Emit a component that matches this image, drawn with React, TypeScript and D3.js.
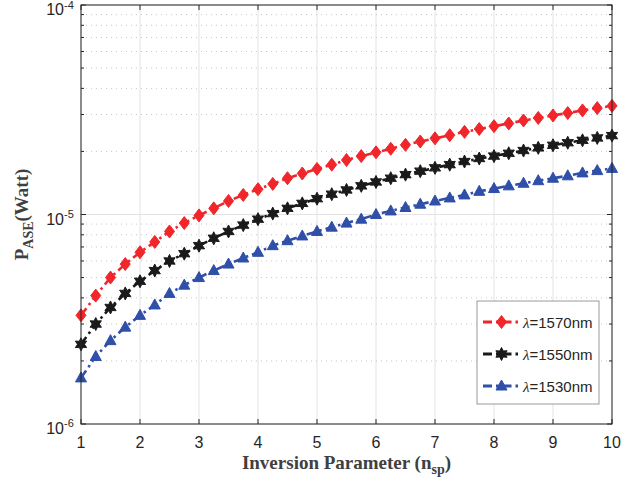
import React from "react";
import * as d3 from "d3";

const xValues = [1,1.25,1.5,1.75,2,2.25,2.5,2.75,3,3.25,3.5,3.75,4,4.25,4.5,4.75,5,5.25,5.5,5.75,6,6.25,6.5,6.75,7,7.25,7.5,7.75,8,8.25,8.5,8.75,9,9.25,9.5,9.75,10];
// values in units of 1e-6 W
const red1570 = [3.3,4.1,5.0,5.8,6.6,7.4,8.3,9.1,9.9,10.7,11.6,12.4,13.2,14.0,14.9,15.7,16.5,17.3,18.2,19.0,19.8,20.6,21.5,22.3,23.1,23.9,24.8,25.6,26.4,27.2,28.1,28.9,29.7,30.5,31.4,32.2,33.0];
const black1550 = [2.4,3.0,3.6,4.2,4.8,5.4,6.0,6.5,7.1,7.7,8.3,8.9,9.5,10.1,10.7,11.3,11.9,12.5,13.1,13.7,14.3,14.9,15.5,16.1,16.7,17.3,17.9,18.5,19.0,19.6,20.2,20.8,21.4,22.0,22.6,23.2,23.8];
const blue1530 = [1.66,2.1,2.5,2.9,3.3,3.7,4.2,4.6,5.0,5.4,5.8,6.2,6.6,7.1,7.5,7.9,8.3,8.7,9.1,9.5,10.0,10.4,10.8,11.2,11.6,12.0,12.4,12.9,13.3,13.7,14.1,14.5,14.9,15.3,15.8,16.2,16.6];
const xTicks = [1,2,3,4,5,6,7,8,9,10];
const yDecades = [-6,-5,-4];
const seriesLabels = ["1570nm","1550nm","1530nm"];

const W = 640, H = 487;
const L = 81, R = 612, T = 5, B = 424;

const x = d3.scaleLinear().domain([1, 10]).range([L, R]);
const y = d3.scaleLog().domain([1e-6, 1e-4]).range([B, T]);

const series = [
  { name: seriesLabels[0], values: red1570, color: "#f0262b", marker: "diamond" },
  { name: seriesLabels[1], values: black1550, color: "#1a1a1a", marker: "star" },
  { name: seriesLabels[2], values: blue1530, color: "#2f4fa8", marker: "triangle" },
];

function markerPath(kind: string): string {
  if (kind === "diamond") return "M0,-6.5L5,0L0,6.5L-5,0Z";
  if (kind === "triangle") return "M0,-6L5.5,4L-5.5,4Z";
  const pts: string[] = [];
  for (let i = 0; i < 12; i++) {
    const r = i % 2 === 0 ? 6.5 : 3.5;
    const a = (Math.PI / 6) * i - Math.PI / 2;
    pts.push(`${(r * Math.cos(a)).toFixed(2)},${(r * Math.sin(a)).toFixed(2)}`);
  }
  return "M" + pts.join("L") + "Z";
}

const minorYs: number[] = [];
for (let e = -6; e < -4; e++) {
  for (let m = 2; m <= 9; m++) minorYs.push(m * Math.pow(10, e));
}

const line = d3.line<[number, number]>().x(d => x(d[0])).y(d => y(d[1]));
const axisColor = "#262626";
const textColor = "#262626";

export default function App() {
  return (
    <svg width={W} height={H} style={{ position: "absolute", left: 0, top: 0, background: "#fff" }}>
      <rect x={L} y={T} width={R - L} height={B - T} fill="#fff" />
      {xTicks.map(t => (
        <line key={"gx" + t} x1={x(t)} x2={x(t)} y1={T} y2={B} stroke="#e3e3e3" strokeWidth={1} />
      ))}
      {minorYs.map((v, i) => (
        <line key={"gmy" + i} x1={L} x2={R} y1={y(v)} y2={y(v)} stroke="#c8c8c8" strokeWidth={1} strokeDasharray="1,4" />
      ))}
      {yDecades.map(e => (
        <line key={"gy" + e} x1={L} x2={R} y1={y(Math.pow(10, e))} y2={y(Math.pow(10, e))} stroke="#e3e3e3" strokeWidth={1} />
      ))}
      {series.map(s => {
        const pts: [number, number][] = xValues.map((xv, i) => [xv, s.values[i] * 1e-6]);
        return (
          <g key={s.name}>
            <path d={line(pts) || ""} fill="none" stroke={s.color} strokeWidth={2.6} strokeDasharray="9,4,2.5,4" />
            {pts.map((p, i) => (
              <path key={i} d={markerPath(s.marker)} transform={`translate(${x(p[0])},${y(p[1])})`} fill={s.color} stroke={s.color} strokeWidth={1} />
            ))}
          </g>
        );
      })}
      <rect x={L} y={T} width={R - L} height={B - T} fill="none" stroke={axisColor} strokeWidth={1} />
      {xTicks.map(t => (
        <g key={"tx" + t}>
          <line x1={x(t)} x2={x(t)} y1={B} y2={B - 5} stroke={axisColor} />
          <line x1={x(t)} x2={x(t)} y1={T} y2={T + 5} stroke={axisColor} />
          <text x={x(t)} y={448} textAnchor="middle" fontFamily="Liberation Sans, Arial, sans-serif" fontSize={16} fill={textColor}>{t}</text>
        </g>
      ))}
      {yDecades.map(e => (
        <g key={"ty" + e}>
          <line x1={L} x2={L + 5} y1={y(Math.pow(10, e))} y2={y(Math.pow(10, e))} stroke={axisColor} />
          <line x1={R} x2={R - 5} y1={y(Math.pow(10, e))} y2={y(Math.pow(10, e))} stroke={axisColor} />
          <text x={64} y={y(Math.pow(10, e)) + 10} textAnchor="end" fontFamily="Liberation Sans, Arial, sans-serif" fontSize={16} fill={textColor}>10</text>
          <text x={64} y={Math.max(y(Math.pow(10, e)) + 3, 9)} textAnchor="start" fontFamily="Liberation Sans, Arial, sans-serif" fontSize={11} fill={textColor}>{"-" + Math.abs(e)}</text>
        </g>
      ))}
      {minorYs.map((v, i) => (
        <g key={"tmy" + i}>
          <line x1={L} x2={L + 3} y1={y(v)} y2={y(v)} stroke={axisColor} />
          <line x1={R} x2={R - 3} y1={y(v)} y2={y(v)} stroke={axisColor} />
        </g>
      ))}
      <text x={(L + R) / 2} y={469} textAnchor="middle" fontFamily="Liberation Serif, Times New Roman, serif" fontWeight="bold" fontSize={19} fill="#404040">
        Inversion Parameter (n<tspan fontSize={14} dy={5}>sp</tspan><tspan dy={-5}>)</tspan>
      </text>
      <text transform={`translate(28,${(T + B) / 2}) rotate(-90)`} textAnchor="middle" fontFamily="Liberation Serif, Times New Roman, serif" fontWeight="bold" fontSize={19} fill="#404040">
        P<tspan fontSize={14} dy={5}>ASE</tspan><tspan dy={-5}>(Watt)</tspan>
      </text>
      <rect x={477} y={301} width={122} height={103} fill="#fff" stroke="#9a9a9a" strokeWidth={1} />
      {series.map((s, i) => {
        const cy = 322 + i * 32;
        return (
          <g key={"lg" + s.name}>
            <line x1={483} x2={520} y1={cy} y2={cy} stroke={s.color} strokeWidth={2.8} strokeDasharray="9,4,2.5,4" />
            <path d={markerPath(s.marker)} transform={`translate(501.5,${cy})`} fill={s.color} stroke={s.color} />
            <text x={523} y={cy + 5.5} fontFamily="Liberation Sans, Arial, sans-serif" fontSize={15} fill={textColor}>
              <tspan fontFamily="Liberation Serif, serif" fontStyle="italic">λ</tspan>={s.name}
            </text>
          </g>
        );
      })}
    </svg>
  );
}
